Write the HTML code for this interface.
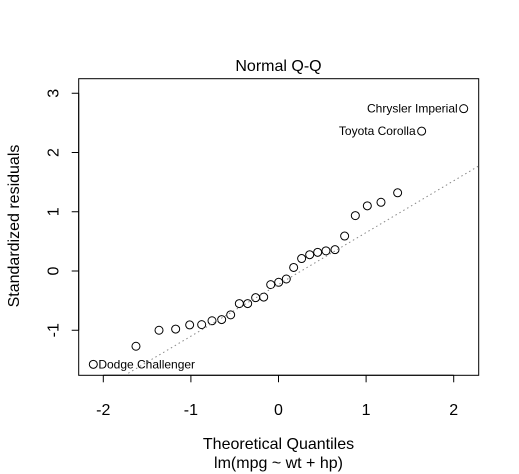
<!DOCTYPE html>
<html><head><meta charset="utf-8"><style>body{margin:0;background:#fff}svg{display:block;font-family:"Liberation Sans",Arial,sans-serif}</style></head>
<body>
<svg id="c" width="519" height="474" viewBox="0 0 519 474">
<rect width="519" height="474" fill="#fff"/>
<text x="278.5" y="71" font-size="16" text-anchor="middle">Normal Q-Q</text>
<rect x="78.7" y="78.7" width="400" height="296.6" fill="none" stroke="#000" stroke-width="1"/>
<g id="xt"></g>
<g id="yt"></g>
<g id="pts"></g>
<text x="278.5" y="449" font-size="16" text-anchor="middle">Theoretical Quantiles</text>
<text x="278.5" y="468" font-size="16" text-anchor="middle">lm(mpg ~ wt + hp)</text>
<text transform="translate(19,226) rotate(-90)" font-size="16" text-anchor="middle">Standardized residuals</text>
</svg>
<script>
const theoretical=[-2.114,-1.627,-1.364,-1.174,-1.014,-0.877,-0.759,-0.649,-0.546,-0.447,-0.352,-0.261,-0.169,-0.089,0.002,0.089,0.173,0.264,0.356,0.447,0.542,0.645,0.755,0.877,1.014,1.170,1.360,1.634,2.114];
const residuals=[-1.575,-1.27,-1.00,-0.98,-0.91,-0.905,-0.84,-0.82,-0.74,-0.55,-0.55,-0.45,-0.44,-0.23,-0.19,-0.135,0.06,0.21,0.275,0.315,0.34,0.36,0.59,0.935,1.10,1.16,1.32,2.36,2.74];
const labelIdx=[0,27,28];
const labelText=["Dodge Challenger","Toyota Corolla","Chrysler Imperial"];
const xTicks=[-2,-1,0,1,2];
const yTicks=[-1,0,1,2,3];
const lineIntercept=-0.226, lineSlope=0.8745;
const NS="http://www.w3.org/2000/svg";
const L=78.7,R=478.7,T=78.7,B=375.3;
const sx=v=>278.5+v*87.6;
const sy=v=>271-v*59.25;
function mk(t,a,p){const e=document.createElementNS(NS,t);for(const k in a)e.setAttribute(k,a[k]);p.appendChild(e);return e;}
const xt=document.getElementById('xt'),yt=document.getElementById('yt'),pts=document.getElementById('pts'),svg=document.getElementById('c');
mk('line',{x1:sx(xTicks[0]),x2:sx(xTicks[xTicks.length-1]),y1:B,y2:B,stroke:'#000'},xt);
xTicks.forEach(v=>{
  const l=mk('line',{x1:sx(v),x2:sx(v),y1:B,y2:B+7,stroke:'#000'},xt);
  
  
  const t=mk('text',{x:sx(v),y:415,'font-size':16,'text-anchor':'middle'},xt);t.textContent=v;
  
  
});
mk('line',{x1:L,x2:L,y1:sy(yTicks[0]),y2:sy(yTicks[yTicks.length-1]),stroke:'#000'},yt);
yTicks.forEach(v=>{
  const l=mk('line',{x1:L-7,x2:L,y1:sy(v),y2:sy(v),stroke:'#000'},yt);
  
  
  const t=mk('text',{transform:`translate(${L-26},${sy(v)}) rotate(-90)`,'font-size':16,'text-anchor':'middle',dy:6},yt);t.textContent=v;
  
  
});
const x0=-1.715,x1=2.286;
const ref=mk('line',{x1:sx(x0),y1:sy(lineIntercept+lineSlope*x0),x2:sx(x1),y2:sy(lineIntercept+lineSlope*x1),stroke:'#888','stroke-dasharray':'1.5 3','stroke-width':1},svg);


theoretical.forEach((v,i)=>{
  const c=mk('circle',{cx:sx(v),cy:sy(residuals[i]),r:4,fill:'none',stroke:'#000','stroke-width':1},pts);
  
  
});
labelIdx.forEach((i,k)=>{
  const left=theoretical[i]<0;
  const t=mk('text',{x:sx(theoretical[i])+(left?5:-6),y:sy(residuals[i])+4,'font-size':12,'text-anchor':left?'start':'end'},pts);
  t.textContent=labelText[k];
  
  
});
</script>
</body></html>
